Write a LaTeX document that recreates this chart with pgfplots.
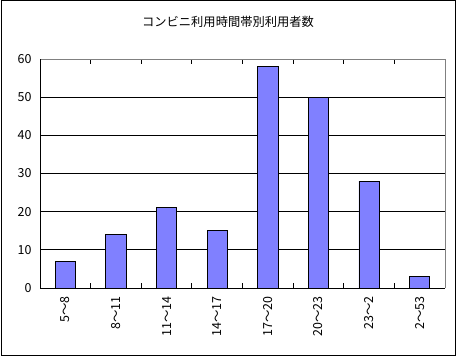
\documentclass[border=0pt]{standalone}
\usepackage{pgfplots}
\pgfplotsset{compat=1.18}
\usepackage{fontspec}
\setmainfont{Noto Sans CJK JP}
\definecolor{barblue}{RGB}{128,128,255}
\begin{document}
\begin{tikzpicture}[x=1bp,y=1bp]
\path (0,0) rectangle (458,357);
\draw[line width=1bp] (1,1.5) rectangle (455.5,356);
\node[font=\fontsize{12.3}{14}\selectfont] at (228,335) {コンビニ利用時間帯別利用者数};
\begin{axis}[at={(40bp,69bp)}, anchor=south west, scale only axis,
 width=405bp, height=229bp,
 xmin=-0.5, xmax=7.5, ymin=0, ymax=60,
 ytick={0,10,...,60}, xtick={0,...,7},
 xticklabels={5～8,8～11,11～14,14～17,17～20,20～23,23～2,2～53},
 xticklabel style={rotate=90, anchor=east},
 xticklabel shift=5bp, yticklabel shift=5bp,
 minor xtick={0.5,1.5,...,6.5},
 major tick length=0pt, minor tick length=5bp, tick align=inside,
 minor tick style={black, line width=0.8bp},
 ymajorgrids, grid style={black, line width=0.8bp},
 axis line style={draw=none},
 tick label style={font=\fontsize{12.5}{14}\selectfont},
 /pgf/number format/assume math mode=true,
 clip=false,
]
\addplot[ybar, bar width=0.4, fill=barblue, draw=black, line width=0.8bp]
 coordinates {(0,7)(1,14)(2,21)(3,15)(4,58)(5,50)(6,28)(7,3)};
\draw[gray, line width=0.8bp] (rel axis cs:0,1) -- (rel axis cs:1,1) -- (rel axis cs:1,0);
\draw[black, line width=0.8bp] (rel axis cs:0,1) -- (rel axis cs:0,0) -- (rel axis cs:1,0);
\end{axis}
\end{tikzpicture}
\end{document}
